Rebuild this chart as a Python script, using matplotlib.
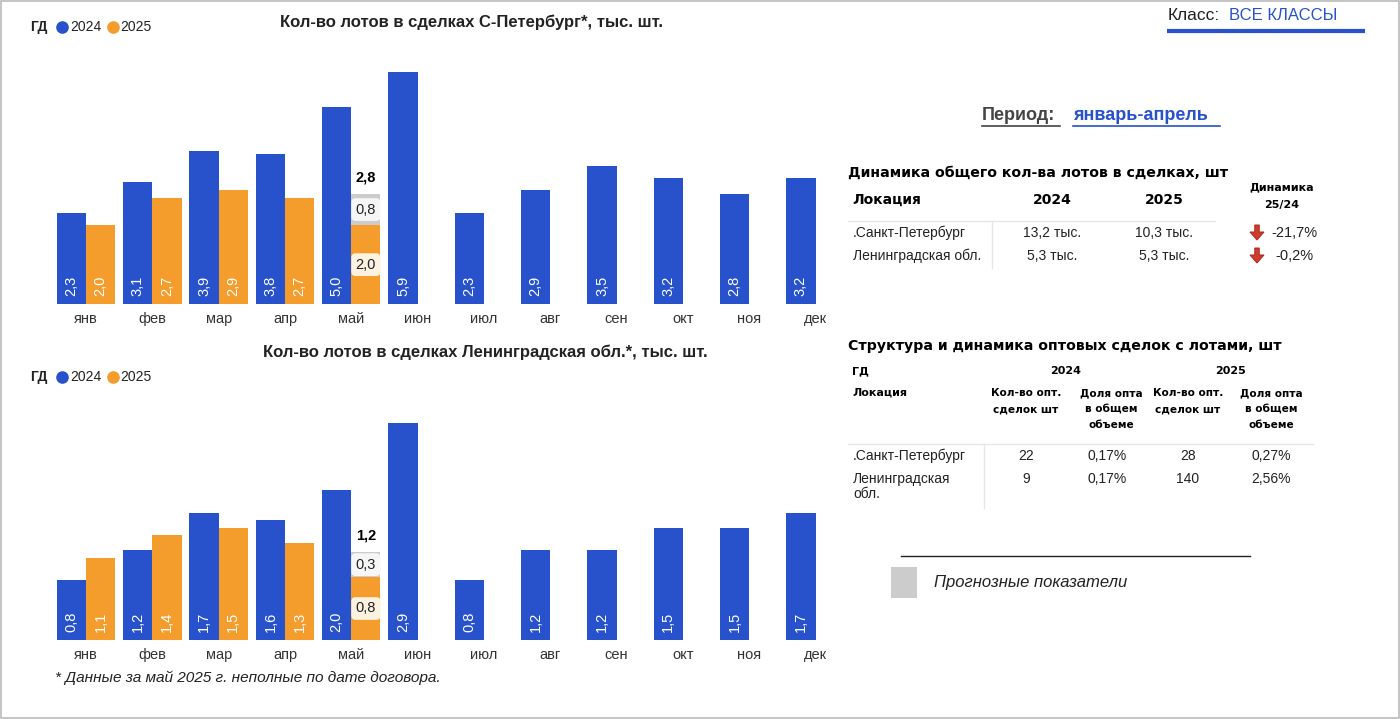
import matplotlib
matplotlib.use("Agg")
import matplotlib.pyplot as plt
from matplotlib.patches import Rectangle, FancyArrow
import numpy as np

plt.rcParams['font.family'] = ['Liberation Sans', 'DejaVu Sans']

# ---- data ----
months = ["янв", "фев", "мар", "апр", "май", "июн", "июл", "авг", "сен", "окт", "ноя", "дек"]

spb_2024 = [2.3, 3.1, 3.9, 3.8, 5.0, 5.9, 2.3, 2.9, 3.5, 3.2, 2.8, 3.2]
spb_2025 = [2.0, 2.7, 2.9, 2.7]          # full months
spb_2025_may = 2.0                      # partial May
spb_2025_may_fc = 0.8                   # forecast part

lo_2024 = [0.8, 1.2, 1.7, 1.6, 2.0, 2.9, 0.8, 1.2, 1.2, 1.5, 1.5, 1.7]
lo_2025 = [1.1, 1.4, 1.5, 1.3]
lo_2025_may = 0.84
lo_2025_may_fc = 0.33

t1_locs = [".Санкт-Петербург", "Ленинградская обл."]
t1_2024 = ["13,2 тыс.", "5,3 тыс."]
t1_2025 = ["10,3 тыс.", "5,3 тыс."]
t1_dyn = ["-21,7%", "-0,2%"]

t2_locs = [".Санкт-Петербург", "Ленинградская\nобл."]
t2_cnt_2024 = ["22", "9"]
t2_share_2024 = ["0,17%", "0,17%"]
t2_cnt_2025 = ["28", "140"]
t2_share_2025 = ["0,27%", "2,56%"]

BLUE = "#2851CC"
ORANGE = "#F49D2D"
GRAY = "#CCCCCC"
DARK = "#222222"
HEAVY = ['DejaVu Sans']

W, H = 1400, 719
fig = plt.figure(figsize=(14, 7.19), dpi=100)


def fa(x0, y0, x1, y1):
    # pixel box (top-left origin) -> figure rect
    return [x0 / W, 1 - y1 / H, (x1 - x0) / W, (y1 - y0) / H]


def fmt(v):
    return f"{v:.1f}".replace(".", ",")


def draw_chart(rect, ymax, v24, v25, may, may_fc):
    ax = fig.add_axes(rect)
    x = np.arange(len(months))
    w = 0.44
    ax.bar(x - w / 2, v24, w, color=BLUE)
    x25 = x[:len(v25)]
    ax.bar(x25 + w / 2, v25, w, color=ORANGE)
    xm = x[len(v25)] + w / 2
    ax.bar(xm, may, w, color=ORANGE)
    ax.bar(xm, may_fc, w, bottom=may, color=GRAY)
    for xi, v in zip(x - w / 2, v24):
        ax.annotate(fmt(v), (xi, 0), xytext=(0, 6), textcoords="offset points",
                    rotation=90, ha="center", va="bottom", color="white", fontsize=10.5)
    for xi, v in zip(x25 + w / 2, v25):
        ax.annotate(fmt(v), (xi, 0), xytext=(0, 6), textcoords="offset points",
                    rotation=90, ha="center", va="bottom", color="white", fontsize=10.5)
    ax.text(xm, may / 2, fmt(may), ha="center", va="center", fontsize=10.5, color=DARK,
            bbox=dict(boxstyle="round,pad=0.3", fc="#FDF1E0", ec="none"))
    ax.text(xm, may + may_fc / 2, fmt(may_fc), ha="center", va="center", fontsize=10.5, color=DARK,
            bbox=dict(boxstyle="round,pad=0.3", fc="#F6F6F6", ec="none"))
    ax.annotate(fmt(may + may_fc), (xm, may + may_fc), xytext=(0, 12), textcoords="offset points",
                ha="center", va="center", fontsize=10.5, fontweight="bold", color="black",
                bbox=dict(boxstyle="round,pad=0.3", fc="white", ec="none"))
    ax.set_xlim(-0.543, 11.52)
    ax.set_ylim(0, ymax)
    ax.set_xticks(x)
    ax.set_xticklabels(months, fontsize=10.5, color="#333333")
    ax.tick_params(length=0, pad=6)
    ax.set_yticks([])
    for s in ax.spines.values():
        s.set_visible(False)
    ax.patch.set_alpha(0)
    return ax


draw_chart(fa(50, 60, 850, 304), 6.2, spb_2024, spb_2025, spb_2025_may, spb_2025_may_fc)
draw_chart(fa(50, 400, 850, 640), 3.2, lo_2024, lo_2025, lo_2025_may, lo_2025_may_fc)

# ---- overlay for texts ----
ov = fig.add_axes([0, 0, 1, 1], zorder=-1)
ov.set_xlim(0, W)
ov.set_ylim(H, 0)
ov.axis("off")

ov.add_patch(Rectangle((0.5, 0.5), W - 1.5, H - 1.5, fill=False, ec="#BBBBBB", lw=1.2))


def legend(y):
    ov.text(30, y, "ГД", fontsize=10, fontweight="bold", va="center", color=DARK)
    ov.scatter([62], [y], s=65, color=BLUE, zorder=3)
    ov.text(70, y, "2024", fontsize=10, va="center", color=DARK)
    ov.scatter([113], [y], s=65, color=ORANGE, zorder=3)
    ov.text(120, y, "2025", fontsize=10, va="center", color=DARK)


legend(27)
legend(377)
ov.text(472, 22, "Кол-во лотов в сделках С-Петербург*, тыс. шт.", fontsize=12,
        fontweight="bold", ha="center", va="center", color=DARK)
ov.text(485, 352, "Кол-во лотов в сделках Ленинградская обл.*, тыс. шт.", fontsize=12,
        fontweight="bold", ha="center", va="center", color=DARK)
ov.text(55, 678, "* Данные за май 2025 г. неполные по дате договора.", fontsize=11.1,
        style="italic", va="center", color=DARK)

# header
ov.text(1168, 15, "Класс:", fontsize=12.5, va="center", color=DARK)
ov.text(1229, 15, "ВСЕ КЛАССЫ", fontsize=12, va="center", color="#2851CC")
ov.plot([1167, 1365], [31, 31], color="#2851CC", lw=3, solid_capstyle="butt")

ov.text(982, 116, "Период:", fontsize=13, fontweight="bold", va="center", color="#444444")
ov.plot([982, 1060], [126, 126], color="#444444", lw=1.2)
ov.text(1073, 116, "январь-апрель", fontsize=13, fontweight="bold", va="center", color="#2851CC")
ov.plot([1073, 1220], [126, 126], color="#2851CC", lw=1.2)

# table 1
ov.text(848, 173, "Динамика общего кол-ва лотов в сделках, шт", fontsize=10.2,
        fontweight="bold", va="center", color="black", family=HEAVY)
ov.text(852, 200, "Локация", fontsize=10, fontweight="bold", va="center", color="black", family=HEAVY)
ov.text(1052, 200, "2024", fontsize=10, fontweight="bold", ha="center", va="center", color="black",
        family=HEAVY)
ov.text(1164, 200, "2025", fontsize=10, fontweight="bold", ha="center", va="center", color="black",
        family=HEAVY)
ov.text(1282, 187, "Динамика", fontsize=8, fontweight="bold", ha="center", va="center",
        color="black", family=HEAVY)
ov.text(1282, 205, "25/24", fontsize=8, fontweight="bold", ha="center", va="center",
        color="black", family=HEAVY)
ov.plot([848, 1215], [221, 221], color="#E6E6E6", lw=1)
ov.plot([992, 992], [221, 268], color="#E6E6E6", lw=1)
for i, loc in enumerate(t1_locs):
    y = 233 + i * 23
    ov.text(853, y, loc, fontsize=10, va="center", color=DARK)
    ov.text(1052, y, t1_2024[i], fontsize=10, ha="center", va="center", color=DARK)
    ov.text(1164, y, t1_2025[i], fontsize=10, ha="center", va="center", color=DARK)
    ov.add_patch(FancyArrow(1257, y - 8, 0, 15, width=4.5, head_width=14, head_length=8,
                            length_includes_head=True, fc="#D23A2C", ec="#A82A20", lw=0.7))
    ov.text(1294, y, t1_dyn[i], fontsize=10.5, ha="center", va="center", color=DARK)

# table 2
ov.text(848, 346, "Структура и динамика оптовых сделок с лотами, шт", fontsize=10.2,
        fontweight="bold", va="center", color="black", family=HEAVY)
ov.text(852, 371, "ГД", fontsize=8, fontweight="bold", va="center", color="black", family=HEAVY)
ov.text(1066, 371, "2024", fontsize=8, fontweight="bold", ha="center", va="center", color="black",
        family=HEAVY)
ov.text(1230, 371, "2025", fontsize=8, fontweight="bold", ha="center", va="center", color="black",
        family=HEAVY)
ov.text(852, 393, "Локация", fontsize=8, fontweight="bold", va="center", color="black", family=HEAVY)
hdr_cnt = ["Кол-во опт.", "сделок шт"]
hdr_share = ["Доля опта", "в общем", "объеме"]
for xc, lab in [(1026, hdr_cnt), (1111, hdr_share), (1188, hdr_cnt), (1271, hdr_share)]:
    for j, line in enumerate(lab):
        ov.text(xc, 393 + j * 16, line, fontsize=7.6, fontweight="bold", ha="center",
                va="center", color="black", family=HEAVY)
ov.plot([848, 1313], [444, 444], color="#E6E6E6", lw=1)
ov.plot([984, 984], [444, 508], color="#E6E6E6", lw=1)
for i, loc in enumerate(t2_locs):
    y = 456 + i * 23
    ov.text(853, y - 7, loc, fontsize=10, va="top", color=DARK, linespacing=1.1)
    ov.text(1026, y, t2_cnt_2024[i], fontsize=10, ha="center", va="center", color=DARK)
    ov.text(1107, y, t2_share_2024[i], fontsize=10, ha="center", va="center", color=DARK)
    ov.text(1188, y, t2_cnt_2025[i], fontsize=10, ha="center", va="center", color=DARK)
    ov.text(1271, y, t2_share_2025[i], fontsize=10, ha="center", va="center", color=DARK)

# forecast legend
ov.plot([901, 1250], [556, 556], color="#222222", lw=1)
ov.add_patch(Rectangle((891, 567), 26, 31, fc=GRAY, ec="none"))
ov.text(934, 582, "Прогнозные показатели", fontsize=12, style="italic", va="center", color=DARK)

fig.savefig("out.png", dpi=100)
